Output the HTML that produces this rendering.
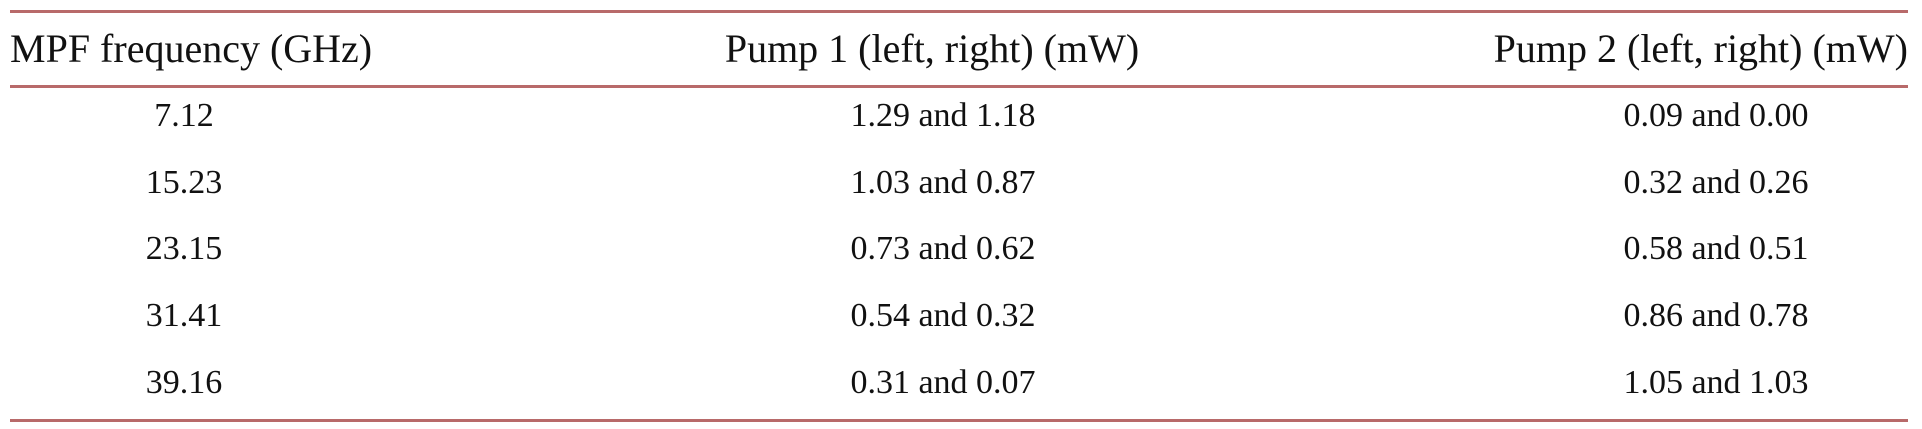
<!DOCTYPE html>
<html><head><meta charset="utf-8"><style>
html,body{margin:0;padding:0;background:#fff;width:1922px;height:429px;overflow:hidden;position:relative;font-family:"Liberation Serif",serif;font-size:40px;color:#111}
.l{position:absolute;left:10px;width:1898px;height:3px;background:#b86a6a}
.t{position:absolute;white-space:nowrap;line-height:40px;height:40px}
.d{font-size:34px}
.c{transform:translateX(-50%)}
</style></head><body>
<div class="l" style="top:10px"></div>
<div class="l" style="top:85px"></div>
<div class="l" style="top:419px"></div>
<div class="t" style="left:10px;top:29px">MPF frequency (GHz)</div>
<div class="t c" style="left:932px;top:29px">Pump 1 (left, right) (mW)</div>
<div class="t" style="right:14px;top:29px">Pump 2 (left, right) (mW)</div>

<div class="t c d" style="left:184px;top:96px">7.12</div>
<div class="t c d" style="left:943px;top:96px">1.29 and 1.18</div>
<div class="t c d" style="left:1716px;top:96px">0.09 and 0.00</div>

<div class="t c d" style="left:184px;top:163px">15.23</div>
<div class="t c d" style="left:943px;top:163px">1.03 and 0.87</div>
<div class="t c d" style="left:1716px;top:163px">0.32 and 0.26</div>

<div class="t c d" style="left:184px;top:229px">23.15</div>
<div class="t c d" style="left:943px;top:229px">0.73 and 0.62</div>
<div class="t c d" style="left:1716px;top:229px">0.58 and 0.51</div>

<div class="t c d" style="left:184px;top:296px">31.41</div>
<div class="t c d" style="left:943px;top:296px">0.54 and 0.32</div>
<div class="t c d" style="left:1716px;top:296px">0.86 and 0.78</div>

<div class="t c d" style="left:184px;top:363px">39.16</div>
<div class="t c d" style="left:943px;top:363px">0.31 and 0.07</div>
<div class="t c d" style="left:1716px;top:363px">1.05 and 1.03</div>
</body></html>
